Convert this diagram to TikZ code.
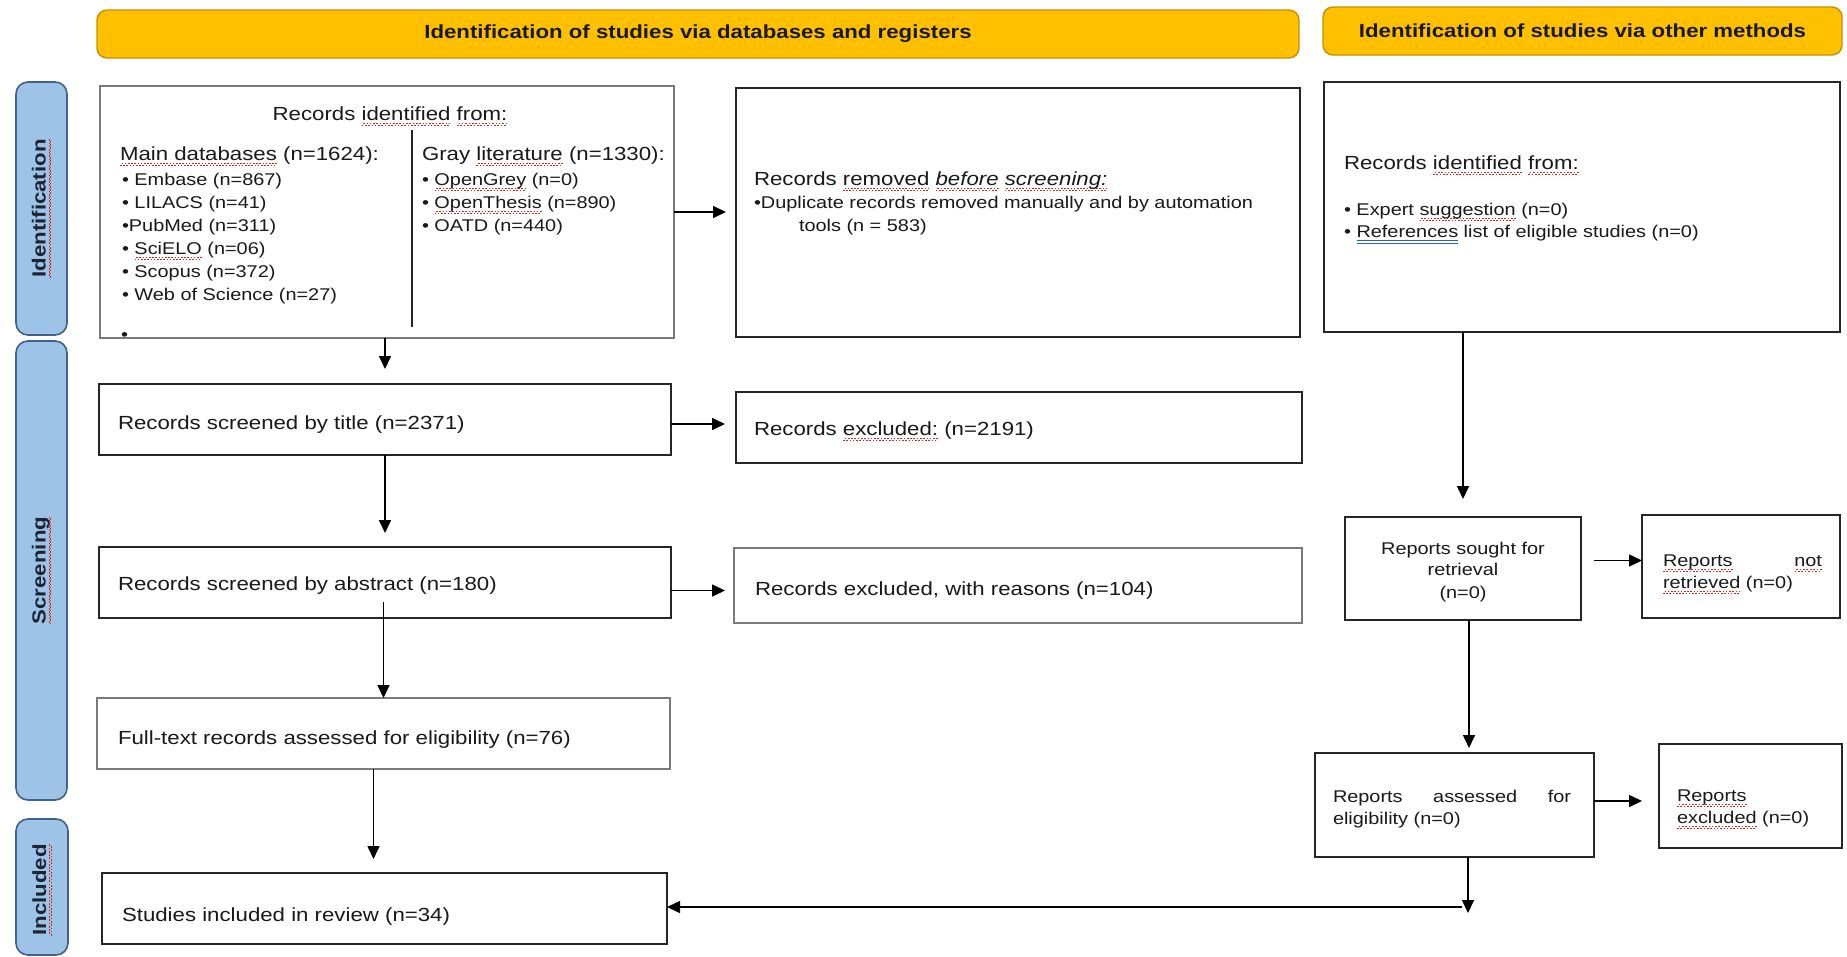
\documentclass[tikz,border=0pt]{standalone}
\usepackage{fontspec}
\setmainfont{Liberation Sans}[FakeStretch=1.17]
\usetikzlibrary{arrows.meta,calc}
\definecolor{bannergold}{HTML}{FFC000}
\definecolor{bannerdk}{HTML}{C49000}
\definecolor{sidefill}{HTML}{9DC3E6}
\definecolor{sidedk}{HTML}{41618A}
\definecolor{navy}{HTML}{1C2536}
\definecolor{boxgray}{HTML}{7A7A7A}
\definecolor{sqred}{HTML}{E0201B}
\definecolor{bqblue}{HTML}{2E5FC0}
\newsavebox\sqbox
\newcommand\sq[1]{\sbox\sqbox{#1}\rlap{\textcolor{sqred}{\hbox to\wd\sqbox{\xleaders\hbox{\rule[-5.5pt]{1.6pt}{1pt}\rule[-4pt]{1.6pt}{1pt}}\hfill}}}\usebox\sqbox}
\newcommand\bq[1]{\sbox\sqbox{#1}\rlap{\textcolor{bqblue}{\rule[-4pt]{\wd\sqbox}{0.9pt}}}\rlap{\textcolor{bqblue}{\rule[-6.5pt]{\wd\sqbox}{0.9pt}}}\usebox\sqbox}
\newcommand\fbig{\fontsize{19}{23}\selectfont}
\newcommand\fsml{\fontsize{17}{22}\selectfont}
\begin{document}
\begin{tikzpicture}[x=1pt,y=-1pt,
  every node/.style={inner sep=0pt, outer sep=0pt},
  bx/.style={draw=black!85, line width=1.6pt, fill=white, anchor=north west},
  gbx/.style={draw=boxgray, line width=2.6pt, fill=white, anchor=north west},
  banner/.style={draw=bannerdk, fill=bannergold, line width=1.4pt, rounded corners=10pt, font=\fbig\bfseries, text=black!90},
  side/.style={draw=sidedk, fill=sidefill, line width=1.6pt, rounded corners=12pt, anchor=north west},
  sidetxt/.style={rotate=90, font=\fbig\bfseries, text=navy},
  arr/.style={draw=black, line width=1.6pt, -{Triangle[length=13pt,width=12pt]}},
  tb/.style={anchor=base west, font=\fbig, text=black!90},
  ts/.style={anchor=base west, font=\fsml, text=black!90},
]
\fill[white] (0,0) rectangle (1847,956);
\useasboundingbox (0,0) rectangle (1847,956);

% banners
\node[banner, minimum width=1202pt, minimum height=48pt] (b1) at (698,34) {Identification of studies via databases and registers};
\node[banner, minimum width=519pt, minimum height=48pt] (b2) at (1582.5,31) {Identification of studies via other methods};

% side labels
\node[side, minimum width=51pt, minimum height=253pt] (sI) at (16,82) {};
\node[sidetxt] (sIt) at (sI.center) {\sq{Identification}};
\node[side, minimum width=51pt, minimum height=459pt] (sS) at (16,341) {};
\node[sidetxt] (sSt) at (sS.center) {\sq{Screening}};
\node[side, minimum width=52pt, minimum height=136pt] (sN) at (16,819) {};
\node[sidetxt] (sNt) at ([yshift=-3pt]sN.center) {\sq{Included}};

% boxes
\node[gbx, minimum width=574pt, minimum height=252pt] (A) at (100,86) {};
\node[bx, minimum width=564pt, minimum height=249pt] (B) at (736,88) {};
\node[bx, minimum width=516pt, minimum height=250pt] (C) at (1324,82) {};
\node[bx, minimum width=572pt, minimum height=71pt] (Ttl) at (99,384) {};
\node[bx, minimum width=566pt, minimum height=71pt] (Ex1) at (736,392) {};
\node[bx, minimum width=572pt, minimum height=71pt] (Abs) at (99,547) {};
\node[gbx, minimum width=568pt, minimum height=75pt] (Rsn) at (734,548) {};
\node[gbx, minimum width=573pt, minimum height=71pt] (Ft) at (97,698) {};
\node[bx, minimum width=565pt, minimum height=71pt] (St) at (102,873) {};
\node[bx, minimum width=236pt, minimum height=103pt] (So) at (1345,517) {};
\node[bx, minimum width=198pt, minimum height=103pt] (Nr) at (1642,515) {};
\node[bx, minimum width=279pt, minimum height=104pt] (As) at (1315,753) {};
\node[bx, minimum width=183pt, minimum height=104pt] (Ex2) at (1659,744) {};

% box A text
\node[tb, anchor=base] (a0) at (390,120) {Records \sq{identified} \sq{from:}};
\node[tb] (a1) at (120,160) {\sq{Main databases} (n=1624):};
\node[ts] (a2) at (122,185) {• Embase (n=867)};
\node[ts] (a3) at (122,208) {• LILACS (n=41)};
\node[ts] (a4) at (122,231) {•PubMed (n=311)};
\node[ts] (a5) at (122,254) {• \sq{SciELO} (n=06)};
\node[ts] (a6) at (122,277) {• Scopus (n=372)};
\node[ts] (a7) at (122,300) {• Web of Science (n=27)};
\node[ts] (a8) at (121,340) {•};
\node[tb] (g1) at (422,160) {Gray \sq{literature} (n=1330):};
\node[ts] (g2) at (422,185) {• \sq{OpenGrey} (n=0)};
\node[ts] (g3) at (422,208) {• \sq{OpenThesis} (n=890)};
\node[ts] (g4) at (422,231) {• OATD (n=440)};
\coordinate (dv1) at (412,130);
\coordinate (dv2) at (412,327);
\draw[line width=1.2pt, black!85] (dv1) -- (dv2);

% box B text
\node[tb] (bt1) at (754,185) {Records \sq{removed} \textit{\sq{before} \sq{screening:}}};
\node[ts] (bt2) at (754,208) {•Duplicate records removed manually and by automation};
\node[ts] (bt3) at (799,231) {tools (n = 583)};

% box C text
\node[tb] (ct1) at (1344,169) {Records \sq{identified} \sq{from:}};
\node[ts] (ct2) at (1344,215) {• Expert \sq{suggestion} (n=0)};
\node[ts] (ct3) at (1344,237) {• \bq{References} list of eligible studies (n=0)};

% other texts
\node[tb] (tt) at (118,429) {Records screened by title (n=2371)};
\node[tb] (e1t) at (754,435) {Records \sq{excluded:} (n=2191)};
\node[tb] (abt) at (118,590) {Records screened by abstract (n=180)};
\node[tb] (rst) at (755,595) {Records excluded, with reasons (n=104)};
\node[tb] (ftt) at (118,744) {Full-text records assessed for eligibility (n=76)};
\node[tb] (stt) at (122,921) {Studies included in review (n=34)};

\node[ts, anchor=base] (so1) at (1463,554) {Reports sought for};
\node[ts, anchor=base] (so2) at (1463,575) {retrieval};
\node[ts, anchor=base] (so3) at (1463,598) {(n=0)};
\node[ts] (nr1) at (1663,566) {\makebox[159pt][l]{\sq{Reports}\hfill\sq{not}}};
\node[ts] (nr2) at (1663,588) {\sq{retrieved} (n=0)};
\node[ts] (as1) at (1333,802) {\makebox[238pt][l]{Reports\hfill assessed\hfill for}};
\node[ts] (as2) at (1333,824) {eligibility (n=0)};
\node[ts] (ex1) at (1677,801) {\sq{Reports}};
\node[ts] (ex2) at (1677,823) {\sq{excluded} (n=0)};

% connectors
\draw[arr, shorten >=10pt] (A.east) -- (A.east -| B.west);
\draw[arr, shorten >=15pt] (Ttl.north |- A.south) -- (Ttl.north);
\draw[arr, shorten >=11pt] ([yshift=-4.5pt]Ttl.east) -- ([yshift=-4.5pt]Ttl.east -| Ex1.west);
\draw[arr, shorten >=14pt] (Ttl.south) -- (Ttl.south |- Abs.north);
\draw[arr, shorten >=9pt] ([yshift=-8pt]Abs.east) -- ([yshift=-8pt]Abs.east -| Rsn.west);
\draw[arr] ([yshift=16pt]Ft.north |- Abs.south) -- (Ft.north);
\draw[arr, shorten >=14pt] ([xshift=-10pt]Ft.south) -- ([xshift=-10pt]Ft.south |- St.north);
\draw[arr, shorten >=18pt] (So.north |- C.south) -- (So.north);
\draw[arr] ([xshift=13pt,yshift=8pt]So.east) -- ([yshift=8pt]So.east -| Nr.west);
\draw[arr, shorten >=5pt] ([xshift=6pt]So.south) -- ([xshift=6pt]So.south |- As.north);
\draw[arr, shorten >=17pt] ([yshift=4pt]As.east) -- ([yshift=4pt]As.east -| Ex2.west);
\coordinate (jn) at (1468,913);
\coordinate (jl) at (1462,907);
\draw[arr] (As.south -| jn) -- (jn);
\draw[arr] (jl) -- (St.east |- jl);
\end{tikzpicture}
\end{document}
